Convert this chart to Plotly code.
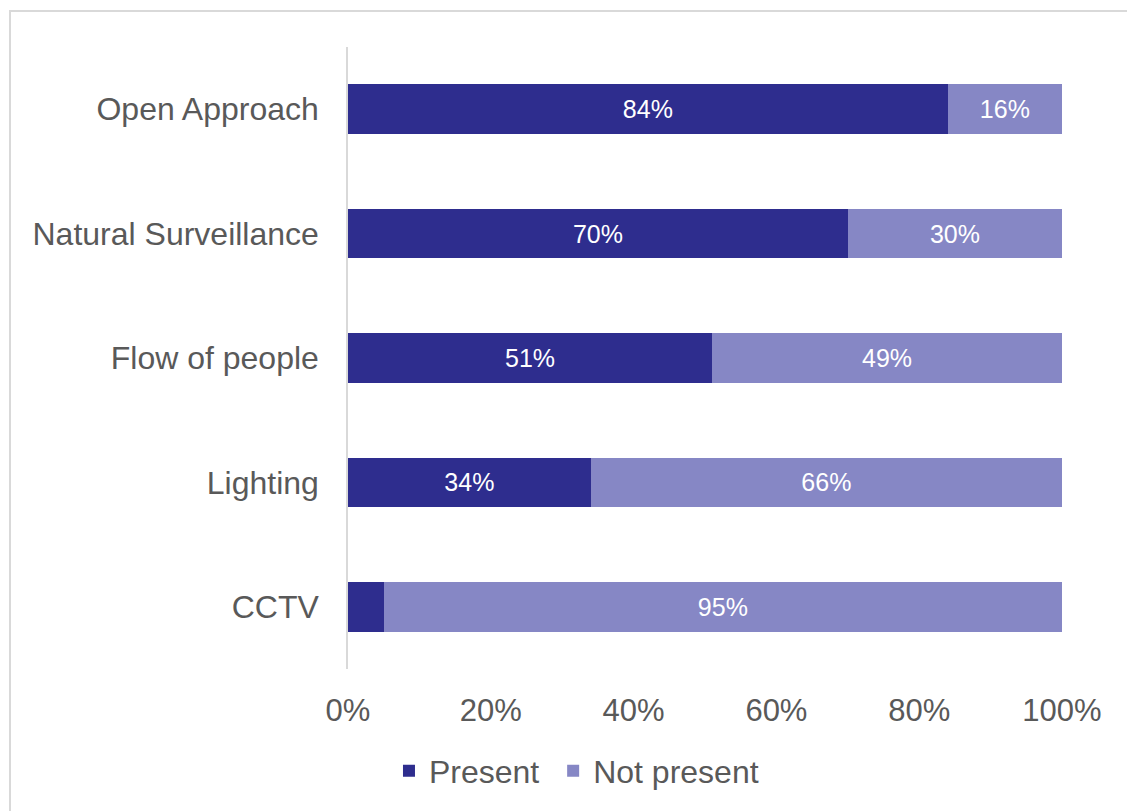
import plotly.graph_objects as go

categories = ["Open Approach", "Natural Surveillance", "Flow of people", "Lighting", "CCTV"]
present = [84, 70, 51, 34, 5]
not_present = [16, 30, 49, 66, 95]
x_ticks = [0, 20, 40, 60, 80, 100]
x_tick_labels = ["0%", "20%", "40%", "60%", "80%", "100%"]

PRESENT_COLOR = "#2E2D8E"
NOT_PRESENT_COLOR = "#8687C5"
TEXT_GRAY = "#595959"
FONT = "Liberation Sans, Arial, sans-serif"


def bar_labels(values, min_shown=10):
    # very thin segments carry no label
    return [f"{v}%" if v >= min_shown else "" for v in values]


fig = go.Figure()
fig.add_trace(go.Bar(
    y=categories, x=present, name="Present\u00a0", orientation="h",
    marker=dict(color=PRESENT_COLOR, line=dict(width=0)),
    text=bar_labels(present), textposition="inside", insidetextanchor="middle",
    textfont=dict(color="white", size=25, family=FONT),
    hoverinfo="skip",
))
fig.add_trace(go.Bar(
    y=categories, x=not_present, name="Not present", orientation="h",
    marker=dict(color=NOT_PRESENT_COLOR, line=dict(width=0)),
    text=bar_labels(not_present), textposition="inside", insidetextanchor="middle",
    textfont=dict(color="white", size=25, family=FONT),
    hoverinfo="skip",
))

# light frame along the top and left edges
fig.add_shape(type="rect", xref="paper", yref="paper",
              x0=-0.4734, x1=2.0, y0=-2.0, y1=1.0579,
              line=dict(color="#D9D9D9", width=2), fillcolor="rgba(0,0,0,0)", layer="below")

fig.update_layout(
    width=1127, height=811,
    barmode="stack", bargap=0.6,
    margin=dict(l=348, r=65, t=47, b=142),
    paper_bgcolor="white", plot_bgcolor="white",
    font=dict(family=FONT, color=TEXT_GRAY, size=31),
    uniformtext=dict(mode=False),
    legend=dict(
        orientation="h", x=0.32, xanchor="center", y=-0.164, yanchor="middle",
        font=dict(size=32, color=TEXT_GRAY), traceorder="normal",
        itemwidth=30, tracegroupgap=0,
    ),
    xaxis=dict(
        range=[0, 100], tickvals=x_ticks, ticktext=x_tick_labels,
        showgrid=False, zeroline=False, showline=False,
        ticks="", ticklabelstandoff=20,
        tickfont=dict(size=31, color=TEXT_GRAY),
        fixedrange=True,
    ),
    yaxis=dict(
        categoryorder="array", categoryarray=categories, autorange="reversed",
        showgrid=False, zeroline=False,
        showline=True, linecolor="#D9D9D9", linewidth=1.5,
        ticks="", ticklabelstandoff=21,
        tickfont=dict(size=32, color=TEXT_GRAY),
        fixedrange=True,
    ),
)

fig.write_html("out.html", config={"displayModeBar": False})
